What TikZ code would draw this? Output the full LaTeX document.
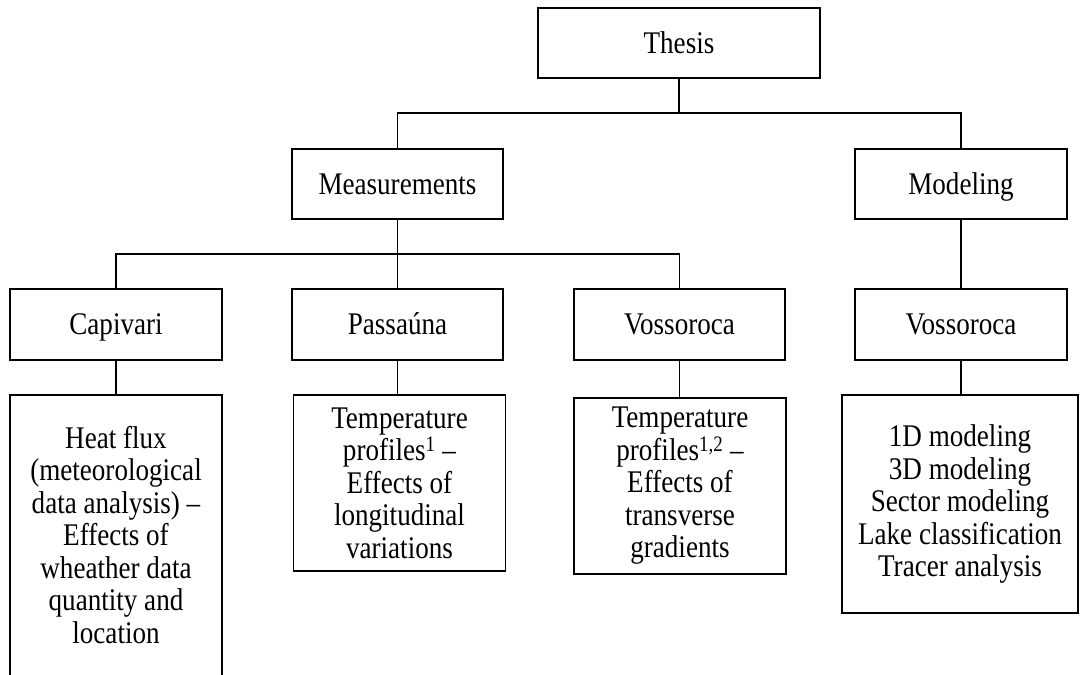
\documentclass[tikz,border=0pt]{standalone}
\usepackage{fontspec}
\setmainfont[FakeStretch=0.86]{Liberation Serif}
\begin{document}
\begin{tikzpicture}[x=1pt,y=1pt,
  txt/.style={inner sep=0pt, align=center, font=\fontsize{31.5}{32.5}\selectfont},
  box/.style={txt, draw, line width=1.4pt},
  single/.style={box, text height=20.5pt, text depth=0pt},
  link/.style={line width=1.4pt}]
\useasboundingbox (0,0) rectangle (1080,-675);
\node[single, minimum width=282, minimum height=70] (thesis) at (679,-43) {Thesis};
\node[single, minimum width=211, minimum height=70] (meas) at (397.5,-184) {Measurements};
\node[single, minimum width=212, minimum height=70] (model) at (961,-184) {Modeling};
\node[single, minimum width=212, minimum height=71] (cap) at (116,-324.5) {Capivari};
\node[single, minimum width=211, minimum height=71] (pas) at (397.5,-324.5) {Passaúna};
\node[single, minimum width=211, minimum height=71] (vos) at (679.5,-324.5) {Vossoroca};
\node[single, minimum width=212, minimum height=71] (vosm) at (961,-324.5) {Vossoroca};
\node[box, minimum width=212, minimum height=300] (capd) at (116,-545) {};
\node[txt] (capt) at (116,-535) {Heat flux\\(meteorological\\data analysis) –\\Effects of\\wheather data\\quantity and\\location};
\node[box, minimum width=212, minimum height=176] (pasd) at (399.5,-483) {Temperature\\profiles\textsuperscript{1} –\\Effects of\\longitudinal\\variations};
\node[box, minimum width=212, minimum height=176] (vosd) at (680,-486) {Temperature\\profiles\textsuperscript{1,2} –\\Effects of\\transverse\\gradients};
\node[box, minimum width=236, minimum height=218] (modd) at (960,-504) {1D modeling\\3D modeling\\Sector modeling\\Lake classification\\Tracer analysis};
\coordinate (j1) at (679,-113);
\coordinate (j2) at (397.5,-254);
\draw[link] (thesis.south) -- (j1);
\draw[link] (j1) -| (meas.north);
\draw[link] (j1) -| (model.north);
\draw[link] (meas.south) -- (j2);
\draw[link] (j2) -| (cap.north);
\draw[link] (j2) -- (pas.north);
\draw[link] (j2) -| (vos.north);
\draw[link] (model.south) -- (vosm.north);
\draw[link] (cap.south) -- (cap.south |- capd.north);
\draw[link] (pas.south) -- (pas.south |- pasd.north);
\draw[link] (vos.south) -- (vos.south |- vosd.north);
\draw[link] (vosm.south) -- (vosm.south |- modd.north);
\end{tikzpicture}
\end{document}
